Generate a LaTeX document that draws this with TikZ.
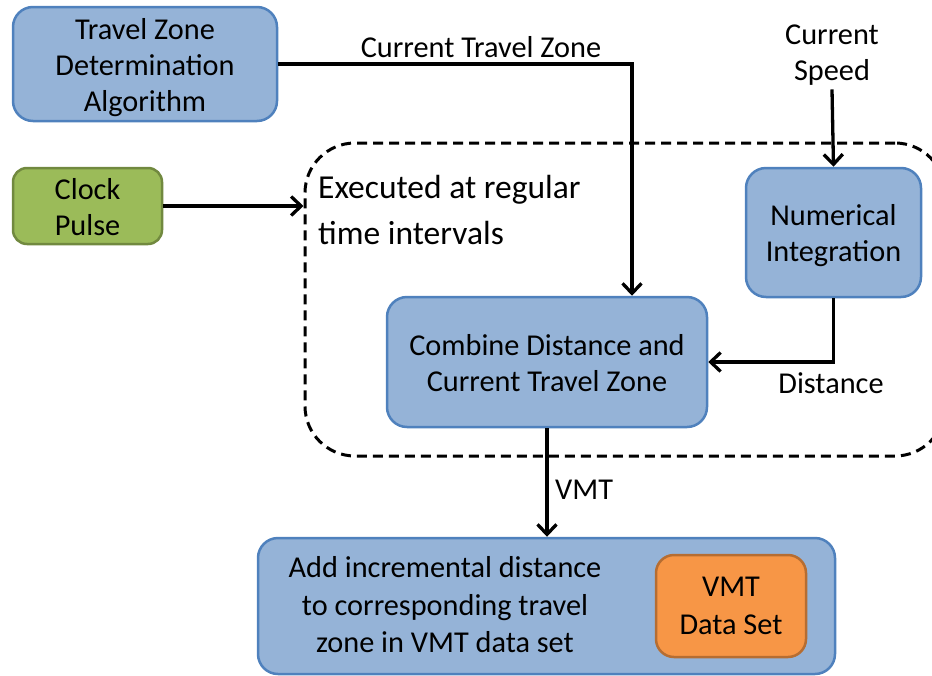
\documentclass[tikz,border=0pt]{standalone}
\usepackage{fontspec}
\setmainfont{Carlito}
\usetikzlibrary{arrows.meta}
\definecolor{bfill}{HTML}{95B3D7}
\definecolor{bline}{HTML}{4F81BD}
\definecolor{gfill}{HTML}{9BBB59}
\definecolor{gline}{HTML}{71893F}
\definecolor{ofill}{HTML}{F79646}
\definecolor{oline}{HTML}{B66D31}
\tikzset{
  box/.style={draw=bline, fill=bfill, line width=2.5pt, rounded corners=20pt, align=center, inner sep=0pt},
  greenbox/.style={box, draw=gline, fill=gfill, rounded corners=14pt},
  orangebox/.style={box, draw=oline, fill=ofill, rounded corners=18pt},
  txt/.style={font=\fontsize{30.3}{36}\selectfont, align=center, inner sep=0pt},
  conn/.style={line width=3.3pt, -{Straight Barb[length=10pt,width=19pt,line width=3.3pt]}},
}
\begin{document}
\begin{tikzpicture}[x=1pt,y=-1pt]
\useasboundingbox (0,0) rectangle (932,675);
\clip (0,0) rectangle (932,675);
% dashed region
\node[draw, dashed, dash pattern=on 10pt off 6pt, line width=3pt, rounded corners=50pt,
      minimum width=640pt, minimum height=313pt] (exec) at (625,299.5) {};
\node[txt, align=left, anchor=west, font=\fontsize{33.5}{46}\selectfont] (exectxt) at (318,210) {Executed at regular\\time intervals};
% boxes
\node[box, minimum width=264pt, minimum height=114pt] (tz) at (145,64) {};
\node[txt] (tztxt) at (145,68) {Travel Zone\\Determination\\Algorithm};
\node[greenbox, minimum width=149pt, minimum height=76pt] (clock) at (87.5,206) {};
\node[txt] (clocktxt) at (87.5,207) {Clock\\Pulse};
\node[box, minimum width=175pt, minimum height=129pt] (num) at (833.5,232.5) {};
\node[txt] (numtxt) at (833.5,236) {Numerical\\Integration};
\node[box, minimum width=320pt, minimum height=130pt] (comb) at (547,362) {};
\node[txt] (combtxt) at (547,363) {Combine Distance and\\Current Travel Zone};
\node[box, minimum width=577pt, minimum height=136pt] (addbox) at (546.5,606) {};
\node[txt, font=\fontsize{30.3}{37.5}\selectfont] (addtxt) at (445,605) {Add incremental distance\\to corresponding travel\\zone in VMT data set};
\node[orangebox, minimum width=150pt, minimum height=102pt] (vmtds) at (731,606) {};
\node[txt, font=\fontsize{30.3}{38}\selectfont] (vmttxt) at (731,606) {VMT\\Data Set};
% free labels
\node[txt] (speed) at (832,55) {Current\\Speed};
\node[txt] (ctzlab) at (481,47) {Current Travel Zone};
\node[txt] (distlab) at (831,383) {Distance};
\node[txt, anchor=west] (vmtlab) at (555,490) {VMT};
% connectors
\coordinate (tzx) at (632,0);
\draw[conn] (tz.east) -| (comb.north -| tzx);
\draw[conn] (speed.south) ++(0,4) -- (num.north);
\draw[conn] (clock.east) -- (clock.east -| exec.west);
\draw[conn] (num.south) |- (comb.east);
\draw[conn] (comb.south) -- (comb.south |- addbox.north);
\end{tikzpicture}
\end{document}
